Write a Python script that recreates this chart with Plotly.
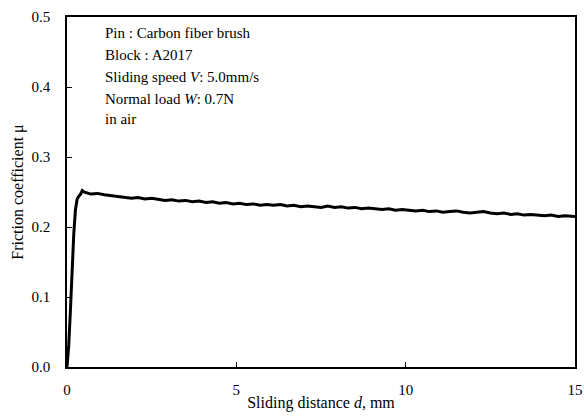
import plotly.graph_objects as go

# Sliding distance d (mm) and friction coefficient mu
distance = [0.0, 0.05, 0.1, 0.15, 0.2, 0.25, 0.3, 0.35, 0.4, 0.45,
            0.5, 0.7, 0.9, 1.1, 1.3, 1.5, 1.7, 1.9, 2.1, 2.3, 2.5, 2.7, 2.9,
            3.1, 3.3, 3.5, 3.7, 3.9, 4.1, 4.3, 4.5, 4.7, 4.9,
            5.1, 5.3, 5.5, 5.7, 5.9, 6.1, 6.3, 6.5, 6.7, 6.9,
            7.1, 7.3, 7.5, 7.7, 7.9, 8.1, 8.3, 8.5, 8.7, 8.9,
            9.1, 9.3, 9.5, 9.7, 9.9, 10.1, 10.3, 10.5, 10.7, 10.9,
            11.1, 11.3, 11.5, 11.7, 11.9, 12.1, 12.3, 12.5, 12.7, 12.9,
            13.1, 13.3, 13.5, 13.7, 13.9, 14.1, 14.3, 14.5, 14.7, 14.9, 15.0]
friction = [0.0, 0.03, 0.08, 0.14, 0.19, 0.225, 0.240, 0.244, 0.247, 0.252,
            0.250, 0.247, 0.248, 0.246, 0.245, 0.244, 0.243, 0.241, 0.242, 0.240, 0.241, 0.239, 0.238,
            0.239, 0.237, 0.238, 0.236, 0.237, 0.235, 0.236, 0.234, 0.235, 0.233,
            0.234, 0.232, 0.233, 0.231, 0.232, 0.231, 0.232, 0.230, 0.231, 0.229,
            0.230, 0.229, 0.228, 0.230, 0.228, 0.229, 0.227, 0.228, 0.226, 0.227,
            0.226, 0.225, 0.226, 0.224, 0.225, 0.224, 0.223, 0.224, 0.222, 0.223,
            0.221, 0.222, 0.223, 0.221, 0.220, 0.221, 0.222, 0.220, 0.219, 0.220,
            0.218, 0.219, 0.217, 0.218, 0.217, 0.216, 0.217, 0.215, 0.216, 0.215, 0.215]

x_ticks = [0, 5, 10, 15]
y_ticks = [0.0, 0.1, 0.2, 0.3, 0.4, 0.5]
conditions = ["Pin : Carbon fiber brush",
              "Block : A2017",
              "Sliding speed <i>V</i>: 5.0mm/s",
              "Normal load <i>W</i>: 0.7N",
              "in air"]

SERIF = "Liberation Serif"

fig = go.Figure()
fig.add_trace(go.Scatter(x=distance, y=friction, mode="lines",
                         line=dict(color="black", width=3), showlegend=False))

line_y = [33, 55, 77, 99, 119]
for txt, py in zip(conditions, line_y):
    fig.add_annotation(text=txt, xref="paper", yref="paper",
                       x=(103 - 67) / 508, y=1 - (py - 17) / 350,
                       xanchor="left", yanchor="middle", showarrow=False,
                       font=dict(family=SERIF, size=15, color="black"))

axis_common = dict(showline=True, linecolor="black", linewidth=1.5, mirror=True,
                   ticks="inside", ticklen=5, tickcolor="black", showgrid=False,
                   zeroline=False, automargin=False,
                   tickfont=dict(family=SERIF, size=15, color="black"))

fig.update_xaxes(range=[0, 15], tickvals=x_ticks, ticktext=[str(v) for v in x_ticks],
                 title=dict(text="Sliding distance <i>d</i>, mm",
                            font=dict(family=SERIF, size=16, color="black"), standoff=0),
                 ticklabelstandoff=8, **axis_common)
fig.update_yaxes(range=[0, 0.5], tickvals=y_ticks, ticktext=[f"{v:.1f}" for v in y_ticks],
                 title=dict(text="Friction coefficient μ",
                            font=dict(family=SERIF, size=16, color="black"), standoff=4),
                 ticklabelstandoff=12, **axis_common)

fig.update_layout(width=584, height=417, plot_bgcolor="white", paper_bgcolor="white",
                  margin=dict(l=67, r=9, t=17, b=50))

# remove the default page margin and scrollbars so the figure fills the window exactly
fig.write_html("out.html",
               config={"displayModeBar": False},
               post_script="document.body.style.margin='0px';"
                           "document.body.style.overflow='hidden';"
                           "document.documentElement.style.overflow='hidden';")
